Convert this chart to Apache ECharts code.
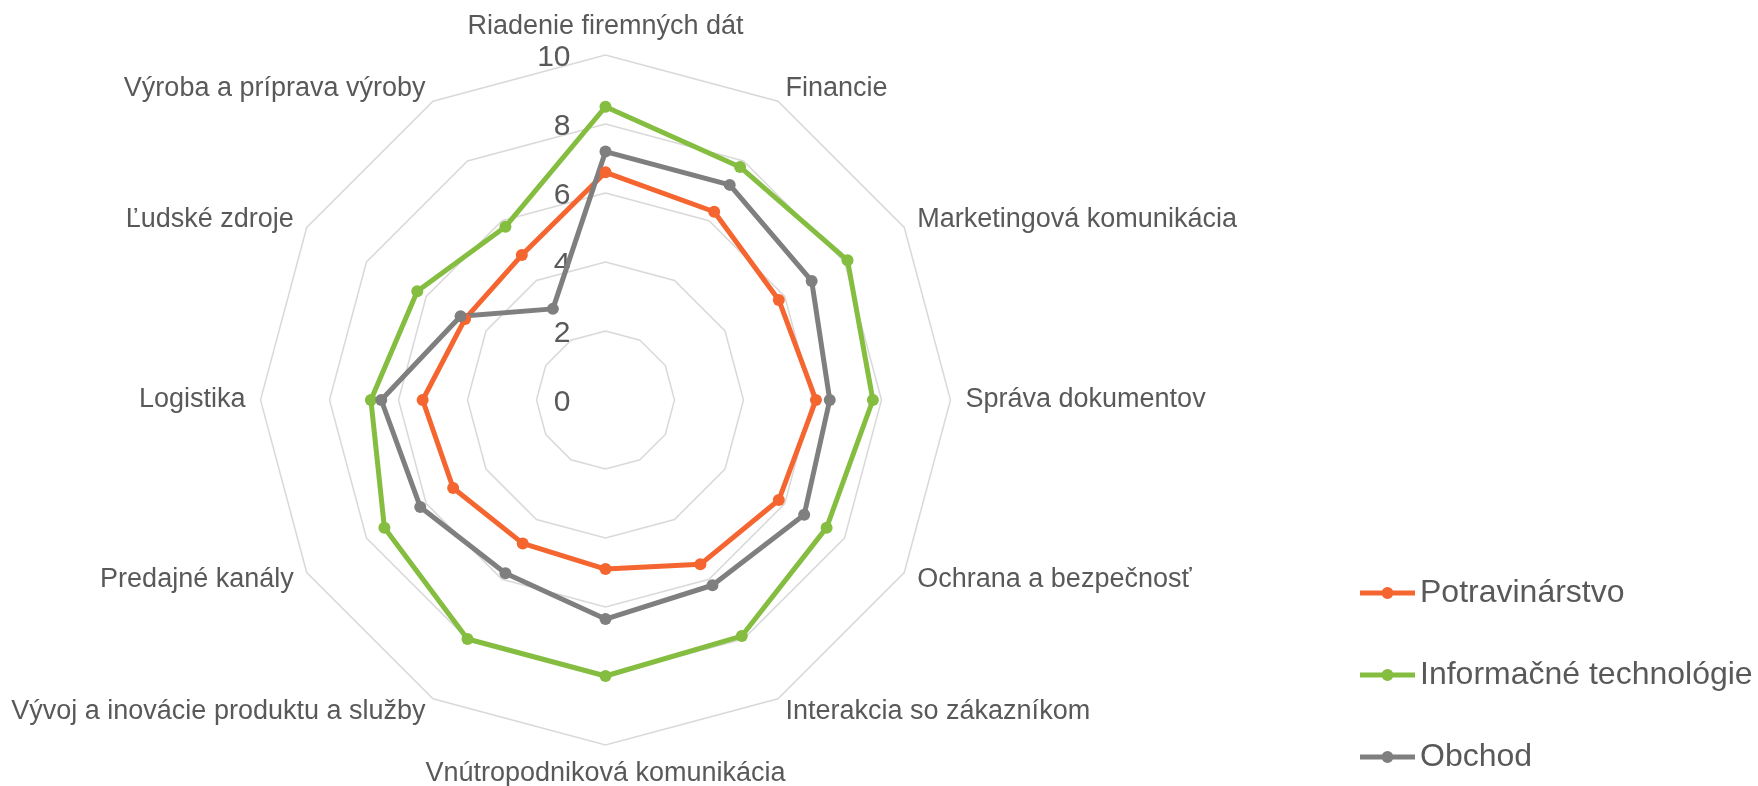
<!DOCTYPE html>
<html>
<head>
<meta charset="utf-8">
<script src="https://cdn.jsdelivr.net/npm/echarts@6/dist/echarts.min.js"></script>
<style>
html,body{margin:0;padding:0;background:#fff;}
#chart{width:1758px;height:786px;}
</style>
</head>
<body>
<div id="chart"></div>
<script>
// Categories listed clockwise starting from the top
const categories = ['Riadenie firemných dát','Financie','Marketingová komunikácia','Správa dokumentov','Ochrana a bezpečnosť','Interakcia so zákazníkom','Vnútropodniková komunikácia','Vývoj a inovácie produktu a služby','Predajné kanály','Logistika','Ľudské zdroje','Výroba a príprava výroby'];
const seriesNames = ['Potravinárstvo','Informačné technológie','Obchod'];
const potravinarstvo = [6.6, 6.3, 5.8, 6.1, 5.8, 5.5, 4.9, 4.8, 5.1, 5.3, 4.7, 4.85];
const informacne = [8.5, 7.8, 8.1, 7.75, 7.4, 7.9, 8.0, 8.0, 7.4, 6.8, 6.3, 5.8];
const obchod = [7.2, 7.2, 6.9, 6.5, 6.65, 6.2, 6.35, 5.8, 6.2, 6.5, 4.85, 3.05];
const tickLabels = ['0','2','4','6','8','10'];
const colors = ['#F46530', '#84BD3F', '#7F7F7F'];

// ECharts radar runs counter-clockwise; reorder so the picture runs clockwise
const order = [0].concat(categories.map((_, i) => i).slice(1).reverse());
const reorder = arr => order.map(i => arr[i]);

const tickMax = Number(tickLabels[tickLabels.length - 1]);
const tickMin = Number(tickLabels[0]);
const tickStep = (tickMax - tickMin) / (tickLabels.length - 1);

const indicator = reorder(categories).map((name, k) => {
  const ind = { name: name, max: tickMax, min: tickMin };
  if (k === 0) {
    ind.axisLabel = {
      show: true, margin: 35,
      formatter: function (v) {
        const idx = Math.round((v - tickMin) / tickStep);
        return '{t|' + (tickLabels[idx] !== undefined ? tickLabels[idx] : v) + '}';
      },
      rich: {
        t: { color: '#595959', fontSize: 30, fontFamily: 'Liberation Sans', padding: [5, 0, 0, 0] }
      }
    };
  }
  return ind;
});

const allSeries = [potravinarstvo, informacne, obchod];
const iconPath = 'path://M0,3.5L55,3.5L55,8.5L0,8.5Z M21.5,6A6,6,0,1,1,33.5,6A6,6,0,1,1,21.5,6Z';

const chart = echarts.init(document.getElementById('chart'), null, { renderer: 'canvas' });
chart.setOption({
  animation: false,
  backgroundColor: '#ffffff',
  textStyle: { fontFamily: 'Liberation Sans' },
  legend: {
    orient: 'vertical',
    left: 1355,
    top: 572,
    itemWidth: 55,
    itemHeight: 12,
    itemGap: 50,
    icon: iconPath,
    data: seriesNames,
    textStyle: { color: '#595959', fontSize: 32, fontFamily: 'Liberation Sans' }
  },
  radar: {
    center: [605.5, 400],
    radius: 345,
    shape: 'polygon',
    splitNumber: tickLabels.length - 1,
    nameGap: 15,
    axisName: { color: '#595959', fontSize: 27, fontFamily: 'Liberation Sans' },
    axisLine: { show: false },
    axisTick: { show: false },
    axisLabel: { show: false },
    splitLine: { lineStyle: { color: '#D9D9D9', width: 1.5 } },
    splitArea: { show: false },
    indicator: indicator
  },
  series: [{
    type: 'radar',
    symbol: 'circle',
    symbolSize: 12,
    data: allSeries.map((arr, i) => ({
      name: seriesNames[i],
      value: reorder(arr),
      lineStyle: { color: colors[i], width: 5 },
      itemStyle: { color: colors[i] }
    }))
  }]
});
</script>
</body>
</html>
